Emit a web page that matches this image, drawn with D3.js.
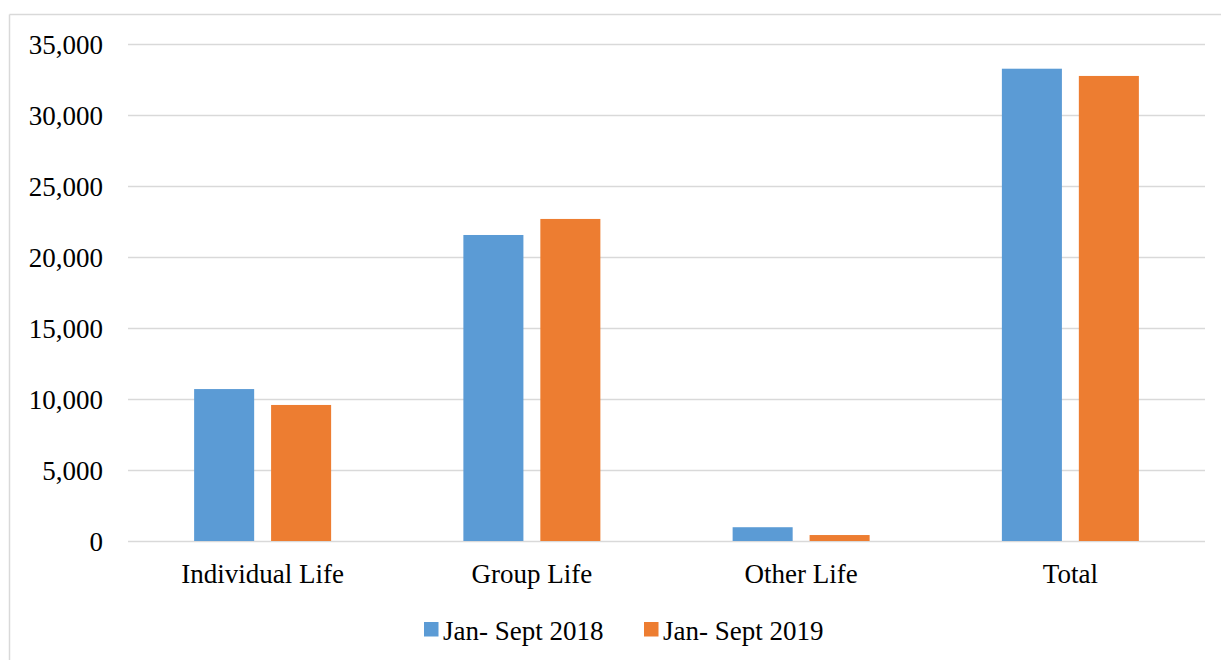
<!DOCTYPE html>
<html>
<head>
<meta charset="utf-8">
<title>Life insurance Jan-Sept 2018 vs 2019</title>
<script src="https://d3js.org/d3.v7.min.js"></script>
<style>
  body { margin: 0; background: #fff; }
  svg text { font-family: "Liberation Serif", "Times New Roman", serif; fill: #000; }
</style>
</head>
<body>
<svg id="chart" width="1221" height="660"></svg>
<script>
// data
var categories = ["Individual Life", "Group Life", "Other Life", "Total"];
var seriesNames = ["Jan- Sept 2018", "Jan- Sept 2019"];
var values2018 = [10700, 21550, 970, 33260];
var values2019 = [9580, 22680, 420, 32750];
var yTicks = [0, 5000, 10000, 15000, 20000, 25000, 30000, 35000];
var colors = ["#5B9BD5", "#ED7D31"];

function draw() {
  var svg = d3.select("#chart");
  var left = 128, right = 1205, top = 44, bottom = 541;

  // outer chart frame (only top and left edges show in the picture)
  svg.append("line").attr("x1", 9.5).attr("y1", 14.5).attr("x2", 1221).attr("y2", 14.5)
    .attr("stroke", "#d9d9d9").attr("stroke-width", 1.5);
  svg.append("line").attr("x1", 9.5).attr("y1", 14.5).attr("x2", 9.5).attr("y2", 660)
    .attr("stroke", "#d9d9d9").attr("stroke-width", 1.5);

  var y = d3.scaleLinear().domain([0, 35000]).range([bottom, top]);
  var x0 = d3.scaleBand().domain(categories).range([left, right]).padding(0);
  var x1 = d3.scaleBand().domain(seriesNames).range([-68.5, 68.5]).paddingInner(0.22).paddingOuter(0);

  // gridlines + y labels
  var yAxis = d3.axisLeft(y).tickValues(yTicks).tickSize(-(right - left))
    .tickFormat(d3.format(",")).tickPadding(25);
  var gy = svg.append("g").attr("transform", "translate(" + left + ",0)").call(yAxis);
  gy.select(".domain").remove();
  gy.selectAll(".tick line").attr("stroke", "#d9d9d9").attr("stroke-width", 1.5);
  gy.selectAll(".tick text").attr("font-size", "27px").attr("dy", "0.34em")
    .style("font-family", "'Liberation Serif', 'Times New Roman', serif").attr("fill", "#000");

  // bars
  var rows = categories.map(function (c, i) {
    return { cat: c, vals: [values2018[i], values2019[i]] };
  });
  var groups = svg.selectAll("g.cat").data(rows).enter().append("g")
    .attr("class", "cat")
    .attr("transform", function (d) { return "translate(" + (x0(d.cat) + x0.bandwidth() / 2) + ",0)"; });
  groups.selectAll("rect").data(function (d) {
    return d.vals.map(function (v, j) { return { s: seriesNames[j], v: v, j: j }; });
  }).enter().append("rect")
    .attr("x", function (d) { return x1(d.s); })
    .attr("width", x1.bandwidth())
    .attr("y", function (d) { return y(d.v); })
    .attr("height", function (d) { return y(0) - y(d.v); })
    .attr("fill", function (d) { return colors[d.j]; });

  // x labels
  var xAxis = d3.axisBottom(x0).tickSize(0).tickPadding(0);
  var gx = svg.append("g").attr("transform", "translate(0," + bottom + ")").call(xAxis);
  gx.select(".domain").remove();
  gx.selectAll(".tick text").attr("font-size", "27px").attr("y", 42).attr("dy", 0)
    .style("font-family", "'Liberation Serif', 'Times New Roman', serif").attr("fill", "#000");

  // legend
  var legendX = [424, 644];
  var leg = svg.selectAll("g.leg").data(seriesNames).enter().append("g")
    .attr("class", "leg")
    .attr("transform", function (d, i) { return "translate(" + legendX[i] + ",622)"; });
  leg.append("rect").attr("width", 14.5).attr("height", 14.5)
    .attr("fill", function (d, i) { return colors[i]; });
  leg.append("text").attr("x", 19).attr("y", 17.5).attr("font-size", "27px")
    .text(function (d) { return d; });
}
draw();
</script>
</body>
</html>
